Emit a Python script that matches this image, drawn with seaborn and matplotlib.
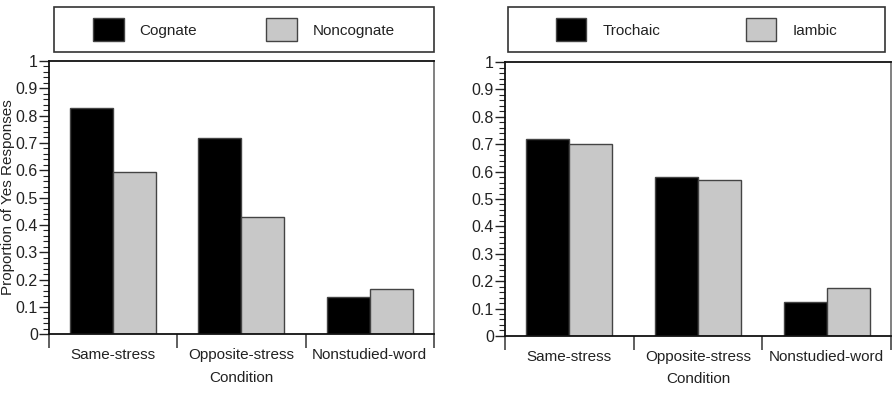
import pandas as pd
import matplotlib
matplotlib.use("Agg")
import matplotlib.pyplot as plt
import seaborn as sns
from matplotlib.patches import Rectangle, Patch
from matplotlib.ticker import MultipleLocator, FixedLocator, FuncFormatter

# datos
condiciones = ["Same-stress", "Opposite-stress", "Nonstudied-word"]
cognate = [0.826, 0.718, 0.138]
noncognate = [0.592, 0.429, 0.164]
trochaic = [0.720, 0.579, 0.124]
iambic = [0.700, 0.569, 0.176]
ytick_vals = [0, 0.1, 0.2, 0.3, 0.4, 0.5, 0.6, 0.7, 0.8, 0.9, 1]

sns.set_style("white")
plt.rcParams["font.family"] = ["Liberation Sans", "DejaVu Sans"]
plt.rcParams["font.size"] = 11
plt.rcParams["text.color"] = "#222222"
plt.rcParams["axes.labelcolor"] = "#222222"
plt.rcParams["xtick.color"] = "#222222"
plt.rcParams["ytick.color"] = "#222222"

NEGRO = "#000000"
GRIS = "#c8c8c8"


def tabla(serie_a, serie_b, nombre_a, nombre_b):
    return pd.DataFrame({
        "Condition": condiciones * 2,
        "grupo": [nombre_a] * 3 + [nombre_b] * 3,
        "valor": serie_a + serie_b,
    })


def etiqueta(v, pos):
    return "%g" % round(v, 2)


def dibujar_panel(ax, df, nombres, ylabel):
    sns.barplot(data=df, x="Condition", y="valor", hue="grupo", hue_order=nombres,
                palette=[NEGRO, GRIS], width=0.67, edgecolor="#444444", linewidth=1.0,
                ax=ax, legend=False, saturation=1)
    ax.set_xlim(-0.5, 2.5)
    ax.set_ylim(0, 1)
    ax.set_yticks(ytick_vals)
    ax.yaxis.set_major_formatter(FuncFormatter(etiqueta))
    ax.yaxis.set_minor_locator(MultipleLocator(0.02))
    ax.tick_params(axis="y", which="major", direction="out", length=7, width=1, left=True, pad=1,
                   labelsize=11.5)
    ax.tick_params(axis="y", which="minor", direction="out", length=4, width=0.8, left=True)
    ax.xaxis.set_minor_locator(FixedLocator([-0.5, 0.5, 1.5, 2.5]))
    ax.tick_params(axis="x", which="major", length=0, pad=10, labelsize=11)
    ax.tick_params(axis="x", which="minor", direction="out", length=10, width=1.2, bottom=True,
                   color="#444444")
    ax.set_xlabel("Condition", labelpad=6, fontsize=11)
    ax.set_ylabel(ylabel, fontsize=11, labelpad=0)
    for lado in ["left", "bottom", "top"]:
        ax.spines[lado].set_color("#111111")
        ax.spines[lado].set_linewidth(1.3)
    ax.spines["right"].set_color("#777777")
    ax.spines["right"].set_linewidth(1.3)


def leyenda(fig, caja, nombres, espacio):
    x0, y0, w, h = caja
    fig.patches.append(Rectangle((x0, y0), w, h, transform=fig.transFigure, fill=False,
                                 edgecolor="#333333", linewidth=1.2))
    handles = [Patch(facecolor=NEGRO, edgecolor="#444444"),
               Patch(facecolor=GRIS, edgecolor="#444444")]
    fig.legend(handles, nombres, loc="center", bbox_to_anchor=(x0 + w / 2, y0 + h / 2),
               ncol=2, frameon=False, handlelength=2.0, handleheight=2.0,
               handletextpad=1.05, columnspacing=espacio, fontsize=11)


fig = plt.figure(figsize=(8.95, 3.98), dpi=100)
ax1 = fig.add_axes([0.0547, 0.160, 0.430, 0.687])
ax2 = fig.add_axes([0.5642, 0.156, 0.4313, 0.688])

dibujar_panel(ax1, tabla(cognate, noncognate, "Cognate", "Noncognate"),
              ["Cognate", "Noncognate"], "Proportion of Yes Responses")
dibujar_panel(ax2, tabla(trochaic, iambic, "Trochaic", "Iambic"),
              ["Trochaic", "Iambic"], "")

leyenda(fig, (0.0603, 0.869, 0.4246, 0.113), ["Cognate", "Noncognate"], 4.5)
leyenda(fig, (0.5676, 0.869, 0.4212, 0.113), ["Trochaic", "Iambic"], 5.6)

fig.savefig("out.png", dpi=100)
